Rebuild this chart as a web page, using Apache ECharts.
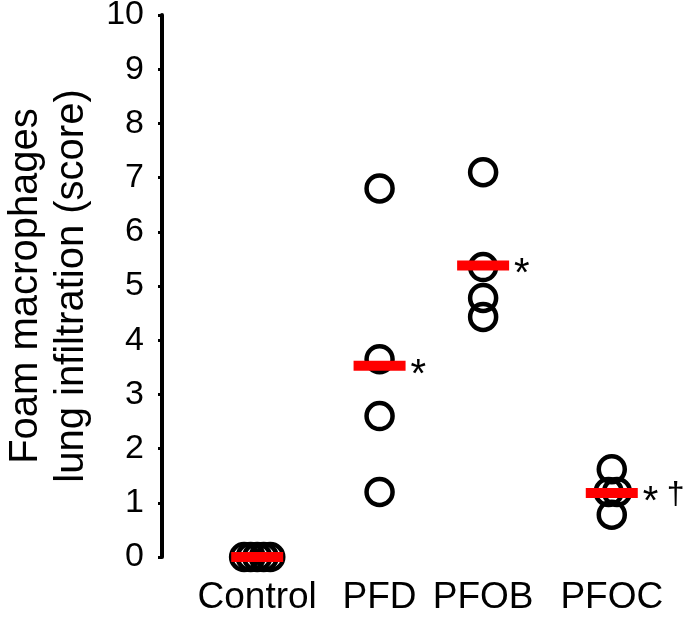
<!DOCTYPE html>
<html>
<head>
<meta charset="utf-8">
<script src="https://cdn.jsdelivr.net/npm/echarts@6/dist/echarts.min.js"></script>
<style>
  html, body { margin: 0; padding: 0; background: #fff; }
  #chart { width: 685px; height: 622px; }
</style>
</head>
<body>
<div id="chart"></div>
<script>
// data
const groups = ['Control', 'PFD', 'PFOB', 'PFOC']
const controlScores = [0, 0, 0, 0, 0]
const pfdScores = [6.8, 3.65, 2.6, 1.2]
const pfobScores = [7.1, 5.35, 4.78, 4.43]
const pfocScores = [1.62, 1.2, 1.2, 0.78]
const meanScores = [0, 3.53, 5.38, 1.18]
const starMarks = ['', '*', '*', '*']
const daggerMarks = ['', '', '', '†']

// layout: where each group sits on the hidden x scale, plus small horizontal spread
const groupPos = [0.91, 2.08, 3.07, 4.3]
const spread = [
  [-0.125, -0.0625, 0, 0.0625, 0.125],
  [0, 0, 0, 0],
  [0, 0, 0, 0],
  [0, -0.03, 0.05, 0]
]

const font = 'Liberation Sans, Arial, sans-serif'
const allScores = [controlScores, pfdScores, pfobScores, pfocScores]

const points = []
allScores.forEach((scores, g) => {
  scores.forEach((v, i) => {
    points.push([groupPos[g] + spread[g][i], v])
  })
})

const means = meanScores.map((m, g) => ({
  value: [groupPos[g], m],
  label: { formatter: starMarks[g] }
}))

const daggers = meanScores.map((m, g) => ({
  value: [groupPos[g], m],
  label: { formatter: daggerMarks[g] }
}))

const chart = echarts.init(document.getElementById('chart'))

chart.setOption({
  animation: false,
  grid: { left: 162, right: 0, top: 15, bottom: 65, outerBoundsMode: 'none' },
  xAxis: {
    type: 'value',
    min: 0,
    max: 5,
    axisLine: { show: false },
    axisTick: { show: false },
    splitLine: { show: false },
    axisLabel: {
      customValues: groupPos,
      formatter: v => groups[groupPos.indexOf(v)] || '',
      color: '#000',
      fontFamily: font,
      fontSize: 37,
      margin: 22
    }
  },
  yAxis: {
    type: 'value',
    min: 0,
    max: 10,
    interval: 1,
    name: 'Foam macrophages\nlung infiltration (score)',
    nameLocation: 'middle',
    nameGap: 64,
    nameTextStyle: {
      color: '#000',
      fontFamily: font,
      fontSize: 40,
      lineHeight: 46
    },
    axisLine: { show: true, lineStyle: { color: '#000', width: 4 } },
    axisTick: { show: true, length: 4, lineStyle: { color: '#000', width: 3 } },
    splitLine: { show: false },
    axisLabel: {
      color: '#000',
      fontFamily: font,
      fontSize: 34,
      margin: 18
    }
  },
  series: [
    {
      name: 'scores',
      type: 'scatter',
      data: points,
      symbol: 'circle',
      symbolSize: 26,
      itemStyle: {
        color: 'rgba(0,0,0,0)',
        borderColor: '#000',
        borderWidth: 4.5,
        opacity: 1
      },
      z: 2
    },
    {
      name: 'mean',
      type: 'scatter',
      data: means,
      symbol: 'rect',
      symbolSize: [52, 10],
      itemStyle: { color: '#ff0000', opacity: 1 },
      label: {
        show: true,
        position: 'right',
        distance: 5,
        offset: [0, 10],
        color: '#000',
        fontFamily: font,
        fontSize: 40
      },
      z: 3
    },
    {
      name: 'dagger',
      type: 'scatter',
      data: daggers,
      symbolSize: 0,
      itemStyle: { opacity: 1 },
      label: {
        show: true,
        position: 'right',
        distance: 55,
        offset: [0, 2],
        color: '#000',
        fontFamily: font,
        fontSize: 32
      },
      z: 3
    }
  ]
})
</script>
</body>
</html>
